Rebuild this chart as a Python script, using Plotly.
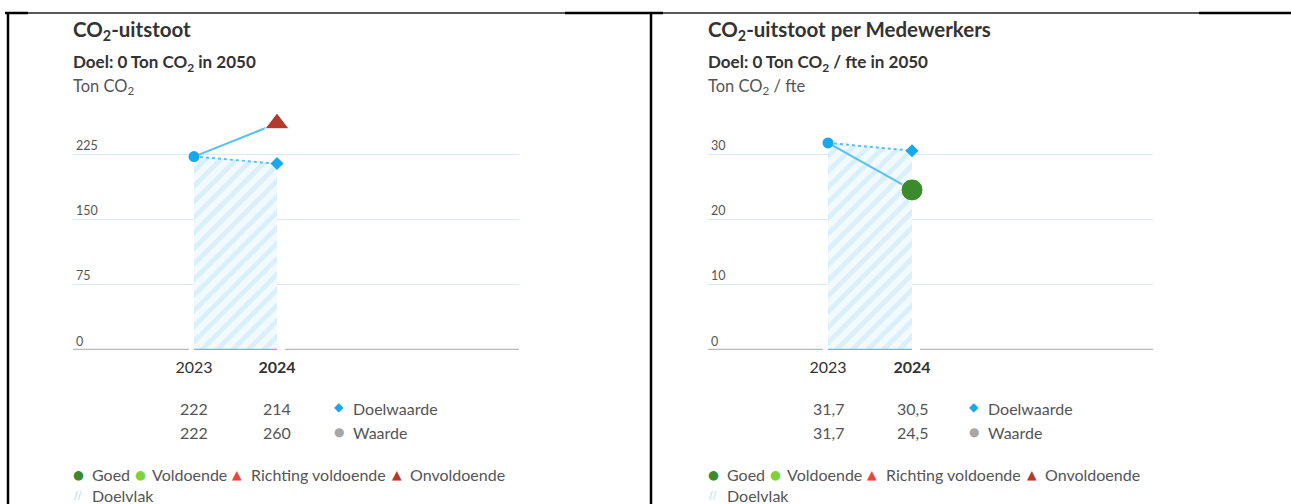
import plotly.graph_objects as go

W, H = 1291, 504
FONT = "Lato"

# ---------------- data ----------------
years = [2023, 2024]
year_labels = ["2023", "<b>2024</b>"]

# chart 1: CO2-uitstoot (Ton CO2)
c1_target = [222, 214]
c1_value = [222, 260]
c1_ticks = [0, 75, 150, 225]

# chart 2: CO2-uitstoot per Medewerkers (Ton CO2 / fte)
c2_target = [31.7, 30.5]
c2_value = [31.7, 24.5]
c2_ticks = [0, 10, 20, 30]

titles = ["<b>CO<sub>2</sub>-uitstoot</b>", "<b>CO<sub>2</sub>-uitstoot per Medewerkers</b>"]
goals = ["<b>Doel: 0 Ton CO<sub>2</sub> in 2050</b>", "<b>Doel: 0 Ton CO<sub>2</sub> / fte in 2050</b>"]
units = ["Ton CO<sub>2</sub>", "Ton CO<sub>2</sub> / fte"]

legend_items = [("●", "#3b8a2c", "Goed"), ("●", "#7ed23c", "Voldoende"),
                ("▲", "#e8463d", "Richting voldoende"), ("▲", "#b23b2e", "Onvoldoende")]

# ---------------- styling ----------------
BLUE = "#16a9ef"
LINE_BLUE = "#58c1ef"
GRID = "#d8e9f3"
GRAY_TXT = "#555555"
DARK_TXT = "#333333"


def fx(px):
    return px / W


def fy(py):
    return 1 - py / H


fig = go.Figure()

panels = [
    dict(off=0, xdom=(73, 519), x2023=194, x2024=277, target=c1_target, value=c1_value,
         ticks=c1_ticks, vcolor="#b23b2e", vsymbol="triangle-up", vsize=21, fmt=lambda v: f"{v:g}"),
    dict(off=635, xdom=(708, 1153), x2023=828, x2024=912, target=c2_target, value=c2_value,
         ticks=c2_ticks, vcolor="#3b8a2c", vsymbol="circle", vsize=22, fmt=lambda v: f"{v:.1f}".replace(".", ",")),
]

PY0, PYTOP = 350, 105
annotations = []
shapes = []
TL = -2  # compensation for annotation padding on left-anchored texts

for i, p in enumerate(panels):
    xa = "x" if i == 0 else "x2"
    ya = "y" if i == 0 else "y2"
    xkey = "xaxis" if i == 0 else "xaxis2"
    ykey = "yaxis" if i == 0 else "yaxis2"
    ppy = (p["x2024"] - p["x2023"])  # px per year
    xmin = 2023 - (p["x2023"] - p["xdom"][0]) / ppy
    xmax = 2024 + (p["xdom"][1] - p["x2024"]) / ppy
    top_tick = p["ticks"][-1]
    ppu = (PY0 - 154) / top_tick
    ymax = (PY0 - PYTOP) / ppu

    # hatched target area
    fig.add_trace(go.Scatter(x=years, y=p["target"], xaxis=xa, yaxis=ya, mode="lines",
                             line=dict(width=0, color="rgba(0,0,0,0)"), fill="tozeroy",
                             fillcolor="#f3fafe",
                             fillpattern=dict(shape="/", fgcolor="#c0e6fa", bgcolor="#f2fafe",
                                              size=11, solidity=0.45),
                             hoverinfo="skip", showlegend=False))
    # target dotted line
    fig.add_trace(go.Scatter(x=years, y=p["target"], xaxis=xa, yaxis=ya, mode="lines",
                             line=dict(color=LINE_BLUE, width=2, dash="dot"),
                             hoverinfo="skip", showlegend=False))
    # value solid line
    fig.add_trace(go.Scatter(x=years, y=p["value"], xaxis=xa, yaxis=ya, mode="lines",
                             line=dict(color=LINE_BLUE, width=2),
                             hoverinfo="skip", showlegend=False))
    # target diamond (2024)
    fig.add_trace(go.Scatter(x=years[1:], y=p["target"][1:], xaxis=xa, yaxis=ya, mode="markers",
                             marker=dict(symbol="diamond", size=10, color=BLUE),
                             cliponaxis=False, showlegend=False))
    # start circle (2023)
    fig.add_trace(go.Scatter(x=years[:1], y=p["value"][:1], xaxis=xa, yaxis=ya, mode="markers",
                             marker=dict(symbol="circle", size=11, color=BLUE),
                             cliponaxis=False, showlegend=False))
    # value marker (2024)
    fig.add_trace(go.Scatter(x=years[1:], y=p["value"][1:], xaxis=xa, yaxis=ya, mode="markers",
                             marker=dict(symbol=p["vsymbol"], size=p["vsize"], color=p["vcolor"],
                                         line=dict(color="white", width=1)),
                             cliponaxis=False, showlegend=False))

    fig.update_layout({
        xkey: dict(domain=[fx(p["xdom"][0]), fx(p["xdom"][1])], range=[xmin, xmax],
                   tickmode="array", tickvals=years, ticktext=year_labels,
                   showgrid=False, zeroline=False, showline=False, ticks="",
                   tickfont=dict(family=FONT, size=16, color=DARK_TXT), ticklabelstandoff=6,
                   fixedrange=True, anchor=ya),
        ykey: dict(domain=[fy(PY0), fy(PYTOP)], range=[0, ymax],
                   tickmode="array", tickvals=p["ticks"],
                   showgrid=True, gridcolor=GRID, gridwidth=1, zeroline=False, showline=False,
                   ticks="", ticklabelposition="inside top",
                   tickfont=dict(family=FONT, size=12.5, color=GRAY_TXT),
                   fixedrange=True, anchor=xa),
    })

    # baseline: gray segments + blue segment under the target area
    gap = 5 / ppy
    shapes.append(dict(type="line", xref=xa, yref=ya, x0=xmin, x1=2023 - gap, y0=0, y1=0,
                       line=dict(color="#b9b9b9", width=2.5)))
    shapes.append(dict(type="line", xref=xa, yref=ya, x0=2023, x1=2024, y0=0, y1=0,
                       line=dict(color=LINE_BLUE, width=2.5)))
    shapes.append(dict(type="line", xref=xa, yref=ya, x0=2024 + gap * 1.6, x1=xmax, y0=0, y1=0,
                       line=dict(color="#b9b9b9", width=2.5)))

    off = p["off"]
    # titles
    annotations.append(dict(x=fx(73 + off + TL), y=fy(30), xref="paper", yref="paper", text=titles[i],
                            showarrow=False, xanchor="left", yanchor="middle",
                            font=dict(family=FONT, size=20.5, color=DARK_TXT)))
    annotations.append(dict(x=fx(73 + off + TL), y=fy(63), xref="paper", yref="paper", text=goals[i],
                            showarrow=False, xanchor="left", yanchor="middle",
                            font=dict(family=FONT, size=17, color=DARK_TXT)))
    annotations.append(dict(x=fx(73 + off + TL), y=fy(86), xref="paper", yref="paper", text=units[i],
                            showarrow=False, xanchor="left", yanchor="middle",
                            font=dict(family=FONT, size=16.5, color=GRAY_TXT)))

    # table of values
    for row, (vals, py) in enumerate([(p["target"], 408), (p["value"], 432)]):
        for yr, v in zip(years, vals):
            annotations.append(dict(x=yr, y=fy(py), xref=xa, yref="paper", text=p["fmt"](v),
                                    showarrow=False, xanchor="center", yanchor="middle",
                                    font=dict(family=FONT, size=16, color=GRAY_TXT)))
    annotations.append(dict(x=fx(339 + off), y=fy(407), xref="paper", yref="paper", text="◆",
                            showarrow=False, xanchor="center", yanchor="middle",
                            font=dict(family="DejaVu Sans", size=12, color=BLUE)))
    annotations.append(dict(x=fx(353 + off + TL), y=fy(408), xref="paper", yref="paper", text="Doelwaarde",
                            showarrow=False, xanchor="left", yanchor="middle",
                            font=dict(family=FONT, size=16, color=GRAY_TXT)))
    annotations.append(dict(x=fx(339 + off), y=fy(432), xref="paper", yref="paper", text="●",
                            showarrow=False, xanchor="center", yanchor="middle",
                            font=dict(family="DejaVu Sans", size=12, color="#a6a6a6")))
    annotations.append(dict(x=fx(353 + off + TL), y=fy(432), xref="paper", yref="paper", text="Waarde",
                            showarrow=False, xanchor="left", yanchor="middle",
                            font=dict(family=FONT, size=16, color=GRAY_TXT)))

    # status legend
    sym_x = [78, 140, 237, 397]
    txt_x = [92, 152, 251, 410]
    for (sym, col, lab), sx, tx in zip(legend_items, sym_x, txt_x):
        annotations.append(dict(x=fx(sx + off), y=fy(474), xref="paper", yref="paper", text=sym,
                                showarrow=False, xanchor="center", yanchor="middle",
                                font=dict(family="DejaVu Sans", size=12.5, color=col)))
        annotations.append(dict(x=fx(tx + off + TL), y=fy(474), xref="paper", yref="paper", text=lab,
                                showarrow=False, xanchor="left", yanchor="middle",
                                font=dict(family=FONT, size=16, color=GRAY_TXT)))
    annotations.append(dict(x=fx(78 + off), y=fy(495), xref="paper", yref="paper", text="<b>//</b>",
                            showarrow=False, xanchor="center", yanchor="middle",
                            font=dict(family="DejaVu Sans", size=10, color="#bfe3f7")))
    annotations.append(dict(x=fx(92 + off + TL), y=fy(495), xref="paper", yref="paper", text="Doelvlak",
                            showarrow=False, xanchor="left", yanchor="middle",
                            font=dict(family=FONT, size=16, color=GRAY_TXT)))

# frame lines
def pline(x0, y0, x1, y1, w, c="#000000"):
    shapes.append(dict(type="line", xref="paper", yref="paper", x0=fx(x0), y0=fy(y0),
                       x1=fx(x1), y1=fy(y1), line=dict(color=c, width=w)))

pline(28, 13, 565, 13, 1.5, "#222222")
pline(663, 13, 1199, 13, 1.5, "#222222")
pline(5, 13, 28, 13, 2.5)
pline(565, 13, 663, 13, 2.5)
pline(1199, 13, 1291, 13, 2.5)
pline(8, 12, 8, 504, 2.5)
pline(651, 12, 651, 504, 2.5)

fig.update_layout(width=W, height=H, margin=dict(l=0, r=0, t=0, b=0),
                  paper_bgcolor="white", plot_bgcolor="white", showlegend=False,
                  annotations=annotations, shapes=shapes,
                  font=dict(family=FONT, color=GRAY_TXT))

fig.write_html("out.html", config={"displayModeBar": False},
               post_script="document.body.style.margin='0px';document.body.style.overflow='hidden';")
